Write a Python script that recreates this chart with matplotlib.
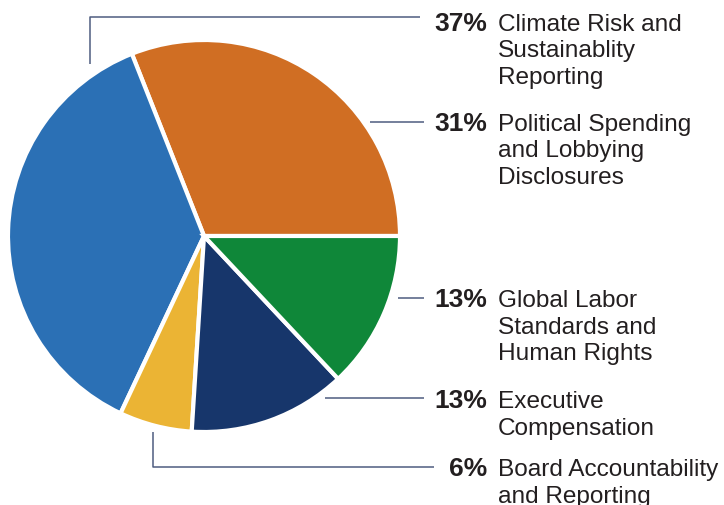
import matplotlib
matplotlib.use("Agg")
from matplotlib import pyplot as plt

# share of proposals by topic (counterclockwise from 3 o'clock)
shares = [31, 37, 6, 13, 13]
colors = ["#D06E23", "#2B70B5", "#EBB434", "#17366B", "#0F8739"]

# labels listed top to bottom on the right
pct_labels = ["37%", "31%", "13%", "13%", "6%"]
topic_labels = [
    ["Climate Risk and", "Sustainablity", "Reporting"],
    ["Political Spending", "and Lobbying", "Disclosures"],
    ["Global Labor", "Standards and", "Human Rights"],
    ["Executive", "Compensation"],
    ["Board Accountability", "and Reporting"],
]

W, H = 724, 505
fig = plt.figure(figsize=(W / 100, H / 100), dpi=100)
ax = fig.add_axes([0, 0, 1, 1])

cx, cy, r = 204, H - 236, 196
ax.pie(shares, colors=colors, startangle=0, counterclock=True,
       center=(cx, cy), radius=r, frame=True,
       wedgeprops=dict(edgecolor="white", linewidth=3))
ax.set_xlim(0, W)
ax.set_ylim(0, H)
ax.set_aspect("equal")
ax.axis("off")

line_col = "#4E5C80"
lw = 1.1
# leader lines (pixel coords from top)
leaders = [
    [(90, 64), (90, 17), (420, 17)],
    [(370, 122), (424, 122)],
    [(398, 298), (424, 298)],
    [(325, 398), (424, 398)],
    [(153, 432), (153, 467), (434, 467)],
]
for pts in leaders:
    xs = [p[0] for p in pts]
    ys = [H - p[1] for p in pts]
    ax.plot(xs, ys, color=line_col, lw=lw, solid_capstyle="butt")

baselines = [31, 131, 307, 408, 476]
font = "Liberation Sans"
step = 26.5
for pct, lines, b in zip(pct_labels, topic_labels, baselines):
    ax.text(487, H - b, pct, ha="right", va="baseline", fontsize=19,
            fontweight="bold", family=font, color="#231F20")
    for i, line in enumerate(lines):
        ax.text(498, H - b - i * step, line, ha="left", va="baseline",
                fontsize=17.6, family=font, color="#231F20")

fig.savefig("out.png", dpi=100)
